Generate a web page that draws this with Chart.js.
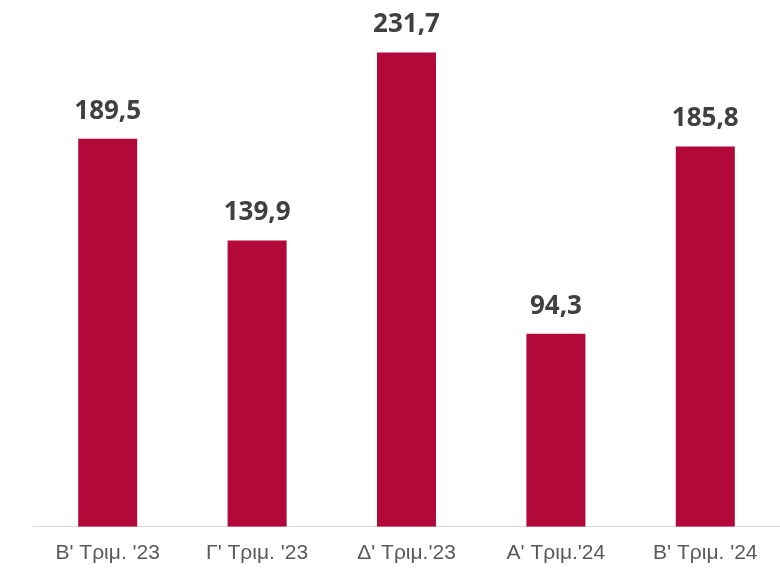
<!DOCTYPE html>
<html lang="el">
<head>
    <meta charset="UTF-8">
    <title>Τριμηνιαία στοιχεία</title>
    <script src="https://cdn.jsdelivr.net/npm/chart.js"></script>
    <style>
        html, body {
            margin: 0;
            padding: 0;
            background: #ffffff;
        }
        .chart-box {
            width: 780px;
            height: 569px;
        }
    </style>
</head>
<body>
    <div class="chart-box">
        <canvas id="quarterChart"></canvas>
    </div>

    <script>
        // Δεδομένα
        const quarters = ["Β' Τριμ. '23", "Γ' Τριμ. '23", "Δ' Τριμ.'23", "Α' Τριμ.'24", "Β' Τριμ. '24"];
        const values = [189.5, 139.9, 231.7, 94.3, 185.8];

        // Ετικέτες τιμών πάνω από τις μπάρες
        const valueLabels = {
            id: 'valueLabels',
            afterDatasetsDraw(chart) {
                const ctx = chart.ctx;
                const meta = chart.getDatasetMeta(0);
                ctx.save();
                ctx.font = 'bold 26px "Open Sans", sans-serif';
                ctx.fillStyle = '#404040';
                ctx.textAlign = 'center';
                ctx.textBaseline = 'alphabetic';
                meta.data.forEach((bar, i) => {
                    const txt = values[i].toFixed(1).replace('.', ',');
                    ctx.fillText(txt, bar.x, bar.y - 20);
                });
                ctx.restore();
            }
        };

        new Chart(document.getElementById('quarterChart'), {
            type: 'bar',
            data: {
                labels: quarters,
                datasets: [{
                    data: values,
                    backgroundColor: '#b3093a',
                    categoryPercentage: 1,
                    barPercentage: 0.395
                }]
            },
            options: {
                responsive: true,
                maintainAspectRatio: false,
                animation: false,
                layout: {
                    // padding négatif en bas : l'axe x réserve 2x le padding des ticks
                    padding: { top: 15, left: 33, right: 0, bottom: -11 }
                },
                plugins: {
                    legend: { display: false },
                    tooltip: { enabled: false }
                },
                scales: {
                    x: {
                        grid: { display: false, drawTicks: false },
                        border: { color: '#d9d9d9', width: 1 },
                        ticks: {
                            color: '#595959',
                            font: { family: '"Liberation Sans", Arial, sans-serif', size: 21 },
                            padding: 14,
                            maxRotation: 0,
                            autoSkip: false
                        }
                    },
                    y: {
                        display: false,
                        min: 0,
                        max: 250
                    }
                }
            },
            plugins: [valueLabels]
        });
    </script>
</body>
</html>
